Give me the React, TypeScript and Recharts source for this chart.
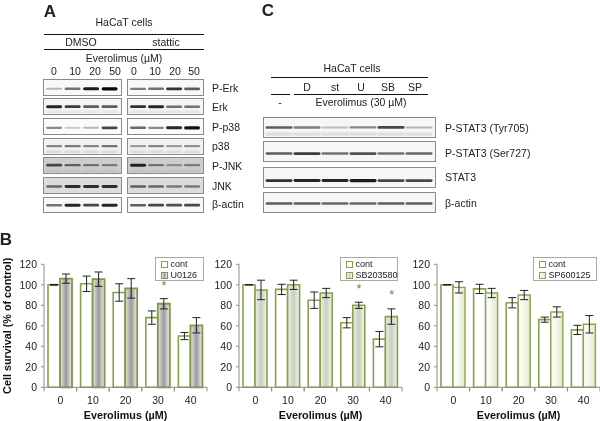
import React from "react"
import { BarChart, Bar, XAxis, YAxis, ErrorBar, Legend, ReferenceDot } from "recharts"

const FONT = "'Liberation Sans', Arial, sans-serif"
const GREEN = "#86a34c"

// survival charts
const doses = ["0", "10", "20", "30", "40"]
const yTicks = [0, 20, 40, 60, 80, 100, 120]

const cont1 = [100, 101, 92.5, 68, 50]
const contErr1 = [0.4, 7.5, 8.5, 6.5, 3.5]
const drug1 = [106, 105.5, 96.5, 81.5, 60.5]
const drugErr1 = [4.5, 7, 9.5, 5, 7.5]

const cont2 = [100, 95.5, 85, 63, 47]
const contErr2 = [0.3, 5, 8, 5, 7.5]
const drug2 = [95, 100, 92, 80, 69]
const drugErr2 = [9.5, 4.5, 4.5, 3, 7.5]

const cont3 = [100, 96, 82.5, 66, 56]
const contErr3 = [0.3, 4.5, 5, 2.5, 4.5]
const drug3 = [97.5, 92, 90, 73.5, 61.5]
const drugErr3 = [5.5, 4.5, 4.5, 5, 8.5]

// blot band strengths per lane
const erkRows = ["P-Erk", "Erk", "P-p38", "p38", "P-JNK", "JNK", "β-actin"]
const dmsoLevels = [
  [0.2, 0.5, 0.9, 1],
  [0.85, 0.75, 0.6, 0.6],
  [0.4, 0.12, 0.2, 0.7],
  [0.4, 0.45, 0.4, 0.5],
  [0.65, 0.5, 0.4, 0.35],
  [0.5, 0.8, 0.8, 0.8],
  [0.5, 0.85, 0.7, 0.85],
]
const statticLevels = [
  [0.45, 0.5, 0.8, 0.6],
  [0.8, 0.85, 0.5, 0.5],
  [0.55, 0.4, 0.85, 0.95],
  [0.3, 0.4, 0.3, 0.35],
  [0.85, 0.4, 0.25, 0.35],
  [0.55, 0.5, 0.4, 0.4],
  [0.6, 0.7, 0.65, 0.7],
]
const erkRowTops = [79, 98, 118, 138, 157, 177, 197]
const erkRowHeights = [17, 17, 17, 17, 17, 17, 16]
const erkRowShades = ["#f9f9f9", "#f4f4f4", "#fbfbfb", "#f2f2f2", "#cdcdcd", "#dcdcdc", "#f8f8f8"]
const erkBandPos = [0.52, 0.45, 0.52, 0.42, 0.42, 0.5, 0.45]
const erkGhost = [0, 0.12, 0, 0.2, 0.1, 0, 0]
const erkLabelY = [88, 107, 127, 146, 166, 186, 204]

const statRows = ["P-STAT3 (Tyr705)", "P-STAT3 (Ser727)", "STAT3", "β-actin"]
const statLevels = [
  [0.6, 0.45, 0.15, 0.4, 0.7, 0.2],
  [0.6, 0.75, 0.5, 0.65, 0.5, 0.55],
  [0.8, 0.85, 0.85, 0.9, 0.7, 0.7],
  [0.6, 0.6, 0.55, 0.55, 0.6, 0.6],
]
const statRowTops = [117, 141, 167, 192]
const statBandPos = [0.45, 0.55, 0.6, 0.5]
const statGhost = [0.2, 0, 0, 0]
const statLabelY = [128, 153, 177, 203]

const T = ({ x, y, size = 10.5, bold, left, children }: any) => (
  <div
    style={{
      position: "absolute",
      left: x,
      top: y,
      transform: left ? "translateY(-50%)" : "translate(-50%, -50%)",
      fontFamily: FONT,
      fontSize: size,
      fontWeight: bold ? 700 : 400,
      color: "#222",
      whiteSpace: "nowrap",
      lineHeight: 1,
    }}
  >
    {children}
  </div>
)

const Rule = ({ x, y, w }: any) => (
  <div style={{ position: "absolute", left: x, top: y, width: w, height: 1, background: "#111" }} />
)

function Blot({ x, y, w, h, levels, shade, pos, ghost, gap }: any) {
  const data = levels.map((level: number, i: number) => ({ lane: i, level }))
  // band is drawn through the lane scale, its strength sets darkness
  const Band = (p: any) => {
    const t = 1.7 + p.level * 1.5
    return (
      <g>
        {ghost > 0 && (
          <rect x={p.x} y={h * 0.72} width={p.width} height={2} fill="#222" fillOpacity={ghost} style={{ filter: "blur(0.8px)" }} />
        )}
        <rect
          x={p.x}
          y={h * pos - t / 2}
          width={p.width}
          height={t}
          rx={t / 2}
          fill="#060606"
          fillOpacity={0.1 + p.level * 0.9}
          style={{ filter: "blur(0.7px)" }}
        />
      </g>
    )
  }
  return (
    <div
      style={{
        position: "absolute",
        left: x,
        top: y,
        width: w,
        height: h,
        boxSizing: "border-box",
        border: "1.2px solid #8a8a8a",
        background: shade,
      }}
    >
      <BarChart width={w - 3} height={h - 3} data={data} margin={{ top: 0, right: 1, bottom: 0, left: 1 }} barCategoryGap={gap}>
        <XAxis dataKey="lane" hide />
        <YAxis hide domain={[0, 1]} />
        <Bar dataKey="level" shape={Band} isAnimationActive={false} />
      </BarChart>
    </div>
  )
}

const DoseTick = ({ x, y, payload, step }: any) => (
  <g>
    <line x1={x - step / 2} x2={x - step / 2} y1={y - 8} y2={y - 4} stroke="#8d8d8d" />
    <line x1={x + step / 2} x2={x + step / 2} y1={y - 8} y2={y - 4} stroke="#8d8d8d" />
    <text x={x} y={y + 9} textAnchor="middle" fontSize={10.5} fontFamily={FONT} fill="#222">
      {payload.value}
    </text>
  </g>
)

function SurvivalChart({ left, id, drugName, cont, contErr, drug, drugErr, stops, drugStroke, drugWidth, stars, legendX, legendW, yTitle }: any) {
  const data = doses.map((dose, i) => ({
    dose,
    cont: cont[i],
    contErr: contErr[i],
    drug: drug[i],
    drugErr: drugErr[i],
  }))
  const swatch = `linear-gradient(to right, ${stops[0]}, ${stops[1]}, ${stops[2]})`
  const box = { boxSizing: "border-box", width: 7.5, height: 7, flexShrink: 0 } as any
  const LegendBox = () => (
    <div
      style={{
        boxSizing: "border-box",
        width: legendW,
        height: 24,
        border: "1px solid #a8a8a8",
        background: "#fff",
        fontFamily: FONT,
        fontSize: 9,
        color: "#222",
        padding: "1px 0 0 4.5px",
        lineHeight: "11px",
      }}
    >
      <div style={{ display: "flex", alignItems: "center", gap: 2.5 }}>
        <span style={{ ...box, border: `1.5px solid ${GREEN}`, background: "#fff" }} />
        cont
      </div>
      <div style={{ display: "flex", alignItems: "center", gap: 2.5 }}>
        <span style={{ ...box, border: `1.5px solid ${drugStroke}`, background: swatch }} />
        {drugName}
      </div>
    </div>
  )
  return (
    <div style={{ position: "absolute", left, top: 250 }}>
      <BarChart
        width={210}
        height={171}
        data={data}
        margin={{ top: 14.3, right: 3, bottom: 0.7, left: 0 }}
        barSize={12}
        barGap={0}
      >
        <defs>
          <linearGradient id={id} x1="0" y1="0" x2="1" y2="0">
            <stop offset="0%" stopColor={stops[0]} />
            <stop offset="50%" stopColor={stops[1]} />
            <stop offset="100%" stopColor={stops[2]} />
          </linearGradient>
        </defs>
        <XAxis
          dataKey="dose"
          height={33}
          stroke="#8d8d8d"
          tickLine={false}
          interval={0}
          tick={<DoseTick step={32.6} />}
          label={{ value: "Everolimus (µM)", position: "insideBottom", offset: 1, fontSize: 10.8, fontWeight: 700, fontFamily: FONT, fill: "#111" }}
        />
        <YAxis
          width={44}
          domain={[0, 120]}
          ticks={yTicks}
          interval={0}
          stroke="#8d8d8d"
          tickSize={3}
          tickMargin={4}
          tick={{ fontSize: 10.5, fontFamily: FONT, fill: "#222" }}
          label={
            yTitle
              ? { value: yTitle, angle: -90, position: "insideLeft", offset: 7, textAnchor: "middle", fontSize: 10.8, fontWeight: 700, fontFamily: FONT, fill: "#111" }
              : undefined
          }
        />
        <Bar dataKey="cont" name="cont" fill="#fff" stroke={GREEN} strokeWidth={1.6} isAnimationActive={false}>
          <ErrorBar dataKey="contErr" width={4} strokeWidth={1} stroke="#222" direction="y" isAnimationActive={false} />
        </Bar>
        <Bar dataKey="drug" name={drugName} fill={`url(#${id})`} stroke={drugStroke} strokeWidth={drugWidth} isAnimationActive={false}>
          <ErrorBar dataKey="drugErr" width={4} strokeWidth={1} stroke="#222" direction="y" isAnimationActive={false} />
        </Bar>
        {stars.map((s: any) => (
          <ReferenceDot
            key={s.dose}
            x={s.dose}
            y={s.y}
            ifOverflow="visible"
            shape={(p: any) => (
              <text x={p.cx + 6} y={p.cy + 5} textAnchor="middle" fontSize={13} fontFamily={FONT} fill="#6f8a38">
                *
              </text>
            )}
          />
        ))}
        <Legend
          layout="horizontal"
          verticalAlign="middle"
          content={<LegendBox />}
          wrapperStyle={{ left: legendX, top: 7, width: legendW, height: 24 }}
        />
      </BarChart>
    </div>
  )
}

export default function App() {
  const laneA = [54, 75, 95, 115, 134, 155, 175, 194]
  const laneAText = ["0", "10", "20", "50", "0", "10", "20", "50"]
  const laneC = [307, 335, 361, 388, 415]
  const laneCText = ["D", "st", "U", "SB", "SP"]
  return (
    <div style={{ position: "absolute", left: 0, top: 0, width: 600, height: 421, background: "#fff", overflow: "hidden", filter: "blur(0.3px)" }}>
      <T x={50} y={11} size={17} bold>A</T>
      <T x={268} y={10} size={17} bold>C</T>
      <T x={6} y={239} size={17} bold>B</T>

      <T x={124} y={22}>HaCaT cells</T>
      <Rule x={44} y={34} w={160} />
      <T x={81} y={42}>DMSO</T>
      <T x={166} y={42}>stattic</T>
      <Rule x={44} y={49} w={160} />
      <T x={124} y={57.5}>Everolimus (µM)</T>
      {laneA.map((x, i) => (
        <T key={i} x={x} y={70.5}>{laneAText[i]}</T>
      ))}
      {erkRows.map((row, i) => (
        <React.Fragment key={row}>
          <Blot x={43} y={erkRowTops[i]} w={79} h={erkRowHeights[i]} levels={dmsoLevels[i]} shade={erkRowShades[i]} pos={erkBandPos[i]} ghost={erkGhost[i]} gap="6%" />
          <Blot x={127} y={erkRowTops[i]} w={77} h={erkRowHeights[i]} levels={statticLevels[i]} shade={erkRowShades[i]} pos={erkBandPos[i]} ghost={erkGhost[i]} gap="6%" />
          <T x={212} y={erkLabelY[i]} left>{row}</T>
        </React.Fragment>
      ))}

      <T x={352} y={68}>HaCaT cells</T>
      <Rule x={271} y={77} w={157} />
      {laneC.map((x, i) => (
        <T key={i} x={x} y={87}>{laneCText[i]}</T>
      ))}
      <Rule x={271} y={94} w={19} />
      <Rule x={294} y={94} w={134} />
      <T x={280} y={102}>-</T>
      <T x={361} y={102}>Everolimus (30 µM)</T>
      {statRows.map((row, i) => (
        <React.Fragment key={row}>
          <Blot x={263} y={statRowTops[i]} w={173} h={21} levels={statLevels[i]} shade="#f6f6f6" pos={statBandPos[i]} ghost={statGhost[i]} gap="2%" />
          <T x={445} y={statLabelY[i]} left>{row}</T>
        </React.Fragment>
      ))}

      <SurvivalChart
        left={0}
        id="u0126"
        drugName="U0126"
        cont={cont1}
        contErr={contErr1}
        drug={drug1}
        drugErr={drugErr1}
        stops={["#e8e8e8", "#9a9a9a", "#f2f2f2"]}
        drugStroke="#7c9a45"
        drugWidth={1.8}
        stars={[{ dose: "30", y: 100 }]}
        legendX={155}
        legendW={49}
        yTitle="Cell survival (% of control)"
      />
      <SurvivalChart
        left={195}
        id="sb203580"
        drugName="SB203580"
        cont={cont2}
        contErr={contErr2}
        drug={drug2}
        drugErr={drugErr2}
        stops={["#f0f2ea", "#c9cfbf", "#f4f6ef"]}
        drugStroke="#86a34c"
        drugWidth={1.6}
        stars={[{ dose: "30", y: 96.6 }, { dose: "40", y: 91 }]}
        legendX={145}
        legendW={58}
      />
      <SurvivalChart
        left={393}
        id="sp600125"
        drugName="SP600125"
        cont={cont3}
        contErr={contErr3}
        drug={drug3}
        drugErr={drugErr3}
        stops={["#ffffff", "#f3f7ea", "#dfe9c9"]}
        drugStroke="#8aa652"
        drugWidth={1.4}
        stars={[]}
        legendX={140}
        legendW={64}
      />
    </div>
  )
}
